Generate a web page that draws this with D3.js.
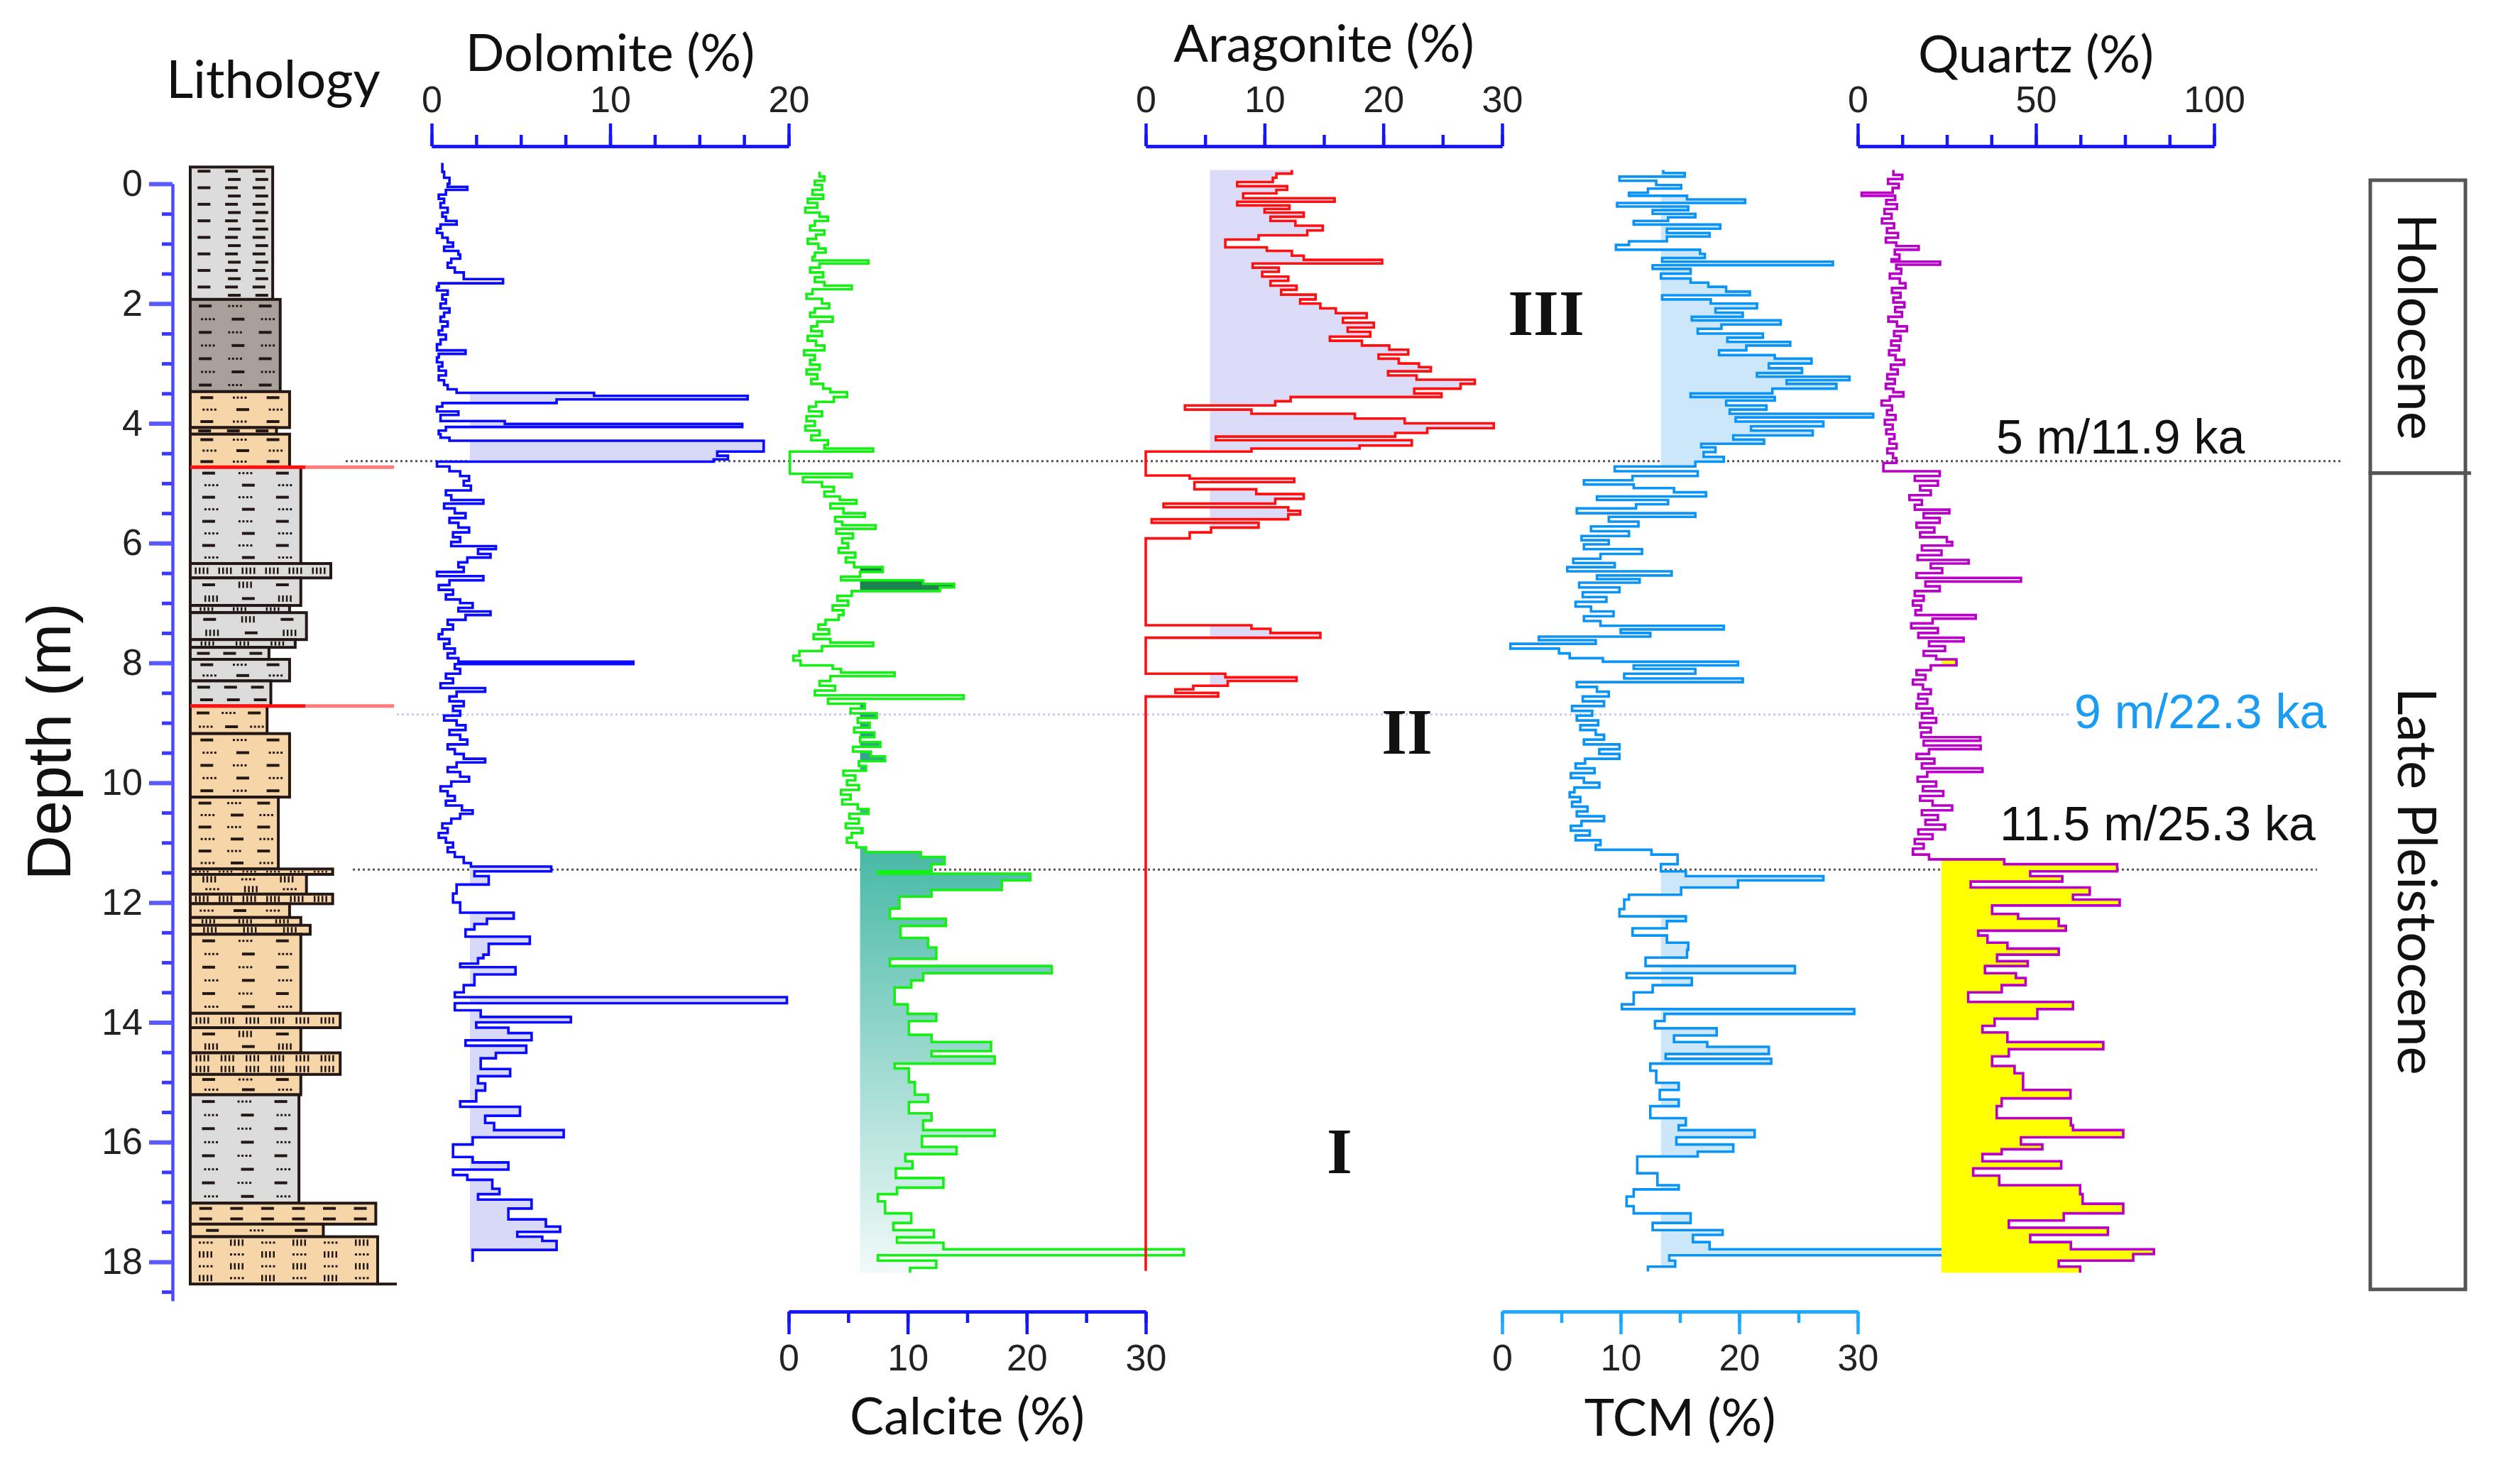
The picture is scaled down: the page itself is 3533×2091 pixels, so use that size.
<!DOCTYPE html>
<html><head><meta charset="utf-8">
<script src="https://cdn.jsdelivr.net/npm/d3@7"></script>
<style>
body{margin:0;background:#fff;}
svg{display:block;}
.nar{font-family:"Liberation Sans Narrow","Arial Narrow","Liberation Sans",sans-serif;}
</style></head>
<body><svg id="c" width="3533" height="2091"></svg>
<script>
// ---------------- DATA ----------------
const depthTicks = [0,2,4,6,8,10,12,14,16,18];
const dolomiteTicks = [0,10,20];
const calciteTicks = [0,10,20,30];
const aragoniteTicks = [0,10,20,30];
const tcmTicks = [0,10,20,30];
const quartzTicks = [0,50,100];

// [depth (m), value (%)] — step series, value held from this depth to the next
const dolomite = [[-0.35,0.6],[-0.2,0.7],[-0.1,1.0],[0.0,0.9],[0.05,2.0],[0.1,0.8],[0.18,0.4],[0.25,0.7],[0.32,0.5],[0.4,0.9],[0.48,0.6],[0.55,0.8],[0.62,1.4],[0.68,0.5],[0.75,0.3],[0.82,0.6],[0.9,0.9],[0.98,1.2],[1.05,0.7],[1.12,1.5],[1.18,1.6],[1.25,1.1],[1.32,0.9],[1.4,1.3],[1.48,1.8],[1.59,4.0],[1.66,0.4],[1.72,0.3],[1.78,0.9],[1.85,0.6],[1.93,0.8],[2.0,0.5],[2.08,1.0],[2.15,0.7],[2.22,0.5],[2.3,0.9],[2.38,0.6],[2.45,0.4],[2.52,0.8],[2.6,0.5],[2.68,0.3],[2.78,1.9],[2.84,0.4],[2.9,0.3],[2.98,0.6],[3.05,0.4],[3.12,0.8],[3.2,0.4],[3.28,0.7],[3.36,0.9],[3.43,1.4],[3.49,9.1],[3.54,17.7],[3.6,7.0],[3.66,0.6],[3.72,0.3],[3.8,1.5],[3.86,0.5],[3.96,4.1],[4.01,17.4],[4.06,0.8],[4.12,0.4],[4.18,0.5],[4.24,1.0],[4.29,18.6],[4.47,16.0],[4.54,16.6],[4.6,15.8],[4.64,0.3],[4.72,1.0],[4.8,1.6],[4.88,2.1],[4.96,1.8],[5.04,2.2],[5.12,0.8],[5.2,1.1],[5.28,2.9],[5.34,0.7],[5.42,1.3],[5.5,1.9],[5.58,1.0],[5.66,1.5],[5.74,2.1],[5.82,1.2],[5.9,1.6],[5.98,1.1],[6.05,3.6],[6.1,2.6],[6.18,3.3],[6.24,2.0],[6.32,1.5],[6.4,1.8],[6.48,0.3],[6.55,2.9],[6.62,1.0],[6.7,0.4],[6.78,1.2],[6.86,0.8],[6.94,1.6],[7.0,2.3],[7.08,1.5],[7.14,3.3],[7.2,1.9],[7.28,0.9],[7.36,1.2],[7.44,0.6],[7.52,0.4],[7.6,1.0],[7.68,0.7],[7.76,1.3],[7.84,0.9],[7.92,1.5],[7.98,11.3],[8.02,1.3],[8.1,1.6],[8.18,0.8],[8.26,1.2],[8.34,0.5],[8.42,3.0],[8.48,1.4],[8.56,1.0],[8.64,1.8],[8.72,1.2],[8.8,1.6],[8.88,0.7],[8.96,1.4],[9.04,1.9],[9.12,1.0],[9.2,1.6],[9.28,2.0],[9.36,0.9],[9.44,1.3],[9.52,1.8],[9.6,3.0],[9.66,1.4],[9.74,0.9],[9.82,1.6],[9.9,2.1],[9.98,1.1],[10.06,0.5],[10.14,0.9],[10.22,1.3],[10.3,0.8],[10.38,1.7],[10.46,2.3],[10.52,1.6],[10.6,1.1],[10.68,0.6],[10.76,0.9],[10.84,0.4],[10.92,0.8],[11.0,1.2],[11.08,0.9],[11.16,1.3],[11.24,1.8],[11.34,2.2],[11.4,6.7],[11.48,2.4],[11.56,3.2],[11.7,1.4],[11.85,1.2],[12.0,1.6],[12.17,4.6],[12.27,3.1],[12.36,2.4],[12.45,1.9],[12.57,5.5],[12.69,3.2],[12.87,2.9],[12.93,2.6],[13.02,1.6],[13.08,4.7],[13.2,2.4],[13.38,1.8],[13.5,1.3],[13.58,19.9],[13.68,1.3],[13.8,2.75],[13.91,7.8],[14.0,2.5],[14.09,4.3],[14.18,5.6],[14.3,1.9],[14.39,5.3],[14.51,3.6],[14.6,2.75],[14.78,4.4],[14.9,2.6],[15.02,3.0],[15.14,2.5],[15.32,1.6],[15.41,4.95],[15.56,3.0],[15.68,3.5],[15.8,7.4],[15.92,2.3],[16.04,1.2],[16.25,2.3],[16.34,4.3],[16.46,1.2],[16.55,2.0],[16.63,3.4],[16.78,3.8],[16.87,2.6],[16.96,5.6],[17.11,4.3],[17.29,6.4],[17.41,7.2],[17.5,4.8],[17.58,6.2],[17.65,7.0],[17.8,2.3],[18.0,2.3]];

const calcite = [[-0.2,2.6],[-0.12,3.0],[-0.05,2.2],[0.02,2.8],[0.1,2.0],[0.18,2.9],[0.25,1.6],[0.32,2.4],[0.4,1.4],[0.48,2.6],[0.55,3.3],[0.62,2.2],[0.7,1.8],[0.78,3.0],[0.85,2.3],[0.92,1.6],[1.0,2.5],[1.08,3.1],[1.15,2.2],[1.22,2.0],[1.28,6.7],[1.33,2.6],[1.4,1.8],[1.48,2.9],[1.56,2.2],[1.64,3.0],[1.7,5.3],[1.76,2.0],[1.84,1.5],[1.92,2.8],[2.0,3.4],[2.08,2.2],[2.15,1.8],[2.22,3.7],[2.3,2.4],[2.38,1.9],[2.46,2.8],[2.54,1.6],[2.62,2.3],[2.7,3.0],[2.78,1.3],[2.86,2.2],[2.94,1.8],[3.02,2.6],[3.1,1.5],[3.18,2.4],[3.26,1.9],[3.34,2.9],[3.42,3.5],[3.48,4.9],[3.56,3.8],[3.64,2.3],[3.72,1.7],[3.8,2.8],[3.88,1.5],[3.96,2.2],[4.04,1.4],[4.12,2.6],[4.2,1.9],[4.28,3.3],[4.36,3.0],[4.42,7.1],[4.47,0.1],[4.84,5.3],[4.9,1.2],[4.98,2.8],[5.06,3.8],[5.14,3.0],[5.22,4.3],[5.28,5.7],[5.34,3.5],[5.42,4.6],[5.5,6.4],[5.56,3.9],[5.64,4.5],[5.7,7.3],[5.76,4.0],[5.84,5.4],[5.92,4.5],[6.0,5.0],[6.08,4.2],[6.16,5.6],[6.24,4.8],[6.32,5.5],[6.4,7.9],[6.48,6.0],[6.56,4.4],[6.62,11.3],[6.68,13.9],[6.74,12.7],[6.8,5.3],[6.88,4.1],[6.96,5.0],[7.04,3.7],[7.12,4.6],[7.2,4.2],[7.28,3.1],[7.36,2.5],[7.44,3.4],[7.52,2.1],[7.6,3.5],[7.66,7.1],[7.72,2.8],[7.8,0.9],[7.88,0.4],[7.96,1.0],[8.04,3.7],[8.1,4.4],[8.16,8.9],[8.22,3.5],[8.3,2.6],[8.38,3.9],[8.46,2.2],[8.54,14.7],[8.6,3.3],[8.68,6.4],[8.76,5.2],[8.84,7.4],[8.92,5.8],[9.0,6.8],[9.08,5.5],[9.16,7.2],[9.24,6.0],[9.32,7.7],[9.4,5.4],[9.48,6.9],[9.56,8.1],[9.64,5.9],[9.72,6.5],[9.8,4.6],[9.88,5.6],[9.96,4.9],[10.04,5.9],[10.12,4.4],[10.2,5.2],[10.28,4.5],[10.36,5.8],[10.44,6.7],[10.52,5.1],[10.6,5.9],[10.68,4.8],[10.76,6.2],[10.84,5.3],[10.92,4.9],[11.0,5.7],[11.08,6.5],[11.16,11.1],[11.24,13.1],[11.36,12.0],[11.48,7.5],[11.52,20.3],[11.63,17.9],[11.79,12.0],[11.9,9.3],[12.1,8.5],[12.27,13.2],[12.39,9.4],[12.59,11.7],[12.75,12.4],[12.94,8.5],[13.06,22.1],[13.18,11.3],[13.3,10.3],[13.42,8.9],[13.7,10.0],[13.86,12.4],[13.98,10.1],[14.21,12.0],[14.33,17.0],[14.48,12.0],[14.57,17.3],[14.69,8.9],[14.77,10.1],[15.0,10.6],[15.21,11.7],[15.33,10.1],[15.52,12.0],[15.64,11.3],[15.8,17.3],[15.9,11.2],[16.08,14.1],[16.2,9.8],[16.32,10.4],[16.44,9.0],[16.6,13.0],[16.76,9.1],[16.87,7.5],[16.99,8.1],[17.19,10.3],[17.35,8.8],[17.47,12.2],[17.59,9.1],[17.68,13.0],[17.79,33.2],[17.89,7.5],[17.98,12.4],[18.1,10.2],[18.18,10.2]];

const aragonite = [[-0.23,12.3],[-0.17,11.0],[-0.1,10.7],[-0.03,7.7],[0.04,11.9],[0.1,11.0],[0.16,8.2],[0.24,15.9],[0.3,7.7],[0.36,12.1],[0.42,10.0],[0.48,13.3],[0.55,10.5],[0.62,12.6],[0.7,14.9],[0.78,13.6],[0.86,9.5],[0.93,6.7],[1.06,10.2],[1.12,12.3],[1.2,13.3],[1.27,19.9],[1.33,9.0],[1.4,11.2],[1.47,9.8],[1.55,12.0],[1.62,10.5],[1.7,12.7],[1.77,11.4],[1.85,14.3],[1.93,13.0],[2.0,14.7],[2.08,16.0],[2.16,18.6],[2.24,16.6],[2.32,19.2],[2.4,17.0],[2.47,18.9],[2.55,15.5],[2.62,18.2],[2.7,20.5],[2.77,22.1],[2.85,19.6],[2.92,21.3],[3.0,23.0],[3.06,24.0],[3.13,20.4],[3.2,22.8],[3.27,27.7],[3.34,26.5],[3.42,22.6],[3.5,24.9],[3.56,12.2],[3.63,10.9],[3.7,3.3],[3.77,8.9],[3.84,17.6],[3.92,21.8],[4.0,29.3],[4.08,23.7],[4.16,21.0],[4.22,5.9],[4.28,22.4],[4.37,18.0],[4.42,8.9],[4.47,0],[4.87,3.7],[4.92,12.5],[4.98,4.1],[5.1,9.3],[5.18,13.3],[5.26,10.9],[5.34,1.5],[5.4,12.0],[5.46,13.0],[5.52,12.0],[5.6,0.5],[5.66,9.5],[5.74,5.5],[5.82,3.7],[5.92,0],[7.37,8.9],[7.43,10.5],[7.5,14.7],[7.58,0],[8.18,6.7],[8.24,12.7],[8.3,6.9],[8.38,4.0],[8.44,2.5],[8.5,6.1],[8.56,0],[18.15,0]];

const tcm = [[-0.23,13.6],[-0.18,15.4],[-0.12,9.9],[-0.05,13.0],[0.02,15.1],[0.08,12.3],[0.15,10.7],[0.2,15.6],[0.26,20.5],[0.32,9.7],[0.38,15.7],[0.44,12.7],[0.5,16.3],[0.56,14.0],[0.62,11.1],[0.68,18.4],[0.75,13.9],[0.82,17.5],[0.88,13.9],[0.96,10.7],[1.02,9.6],[1.1,16.7],[1.17,17.1],[1.24,13.5],[1.3,27.9],[1.36,12.7],[1.42,15.9],[1.5,13.4],[1.58,15.9],[1.65,17.4],[1.72,18.9],[1.8,20.9],[1.86,13.5],[1.93,17.6],[2.0,21.5],[2.08,18.0],[2.15,20.3],[2.22,16.0],[2.28,23.5],[2.35,18.5],[2.42,16.5],[2.5,22.0],[2.57,19.0],[2.64,24.3],[2.7,20.6],[2.78,18.3],[2.86,23.0],[2.92,26.1],[3.0,22.5],[3.08,25.3],[3.16,21.5],[3.22,29.3],[3.28,24.0],[3.34,28.2],[3.42,22.8],[3.5,15.9],[3.56,23.0],[3.62,18.9],[3.7,22.3],[3.77,19.2],[3.84,31.3],[3.9,19.7],[3.97,27.1],[4.05,21.0],[4.12,26.2],[4.2,19.5],[4.27,22.1],[4.34,16.8],[4.4,18.0],[4.48,17.0],[4.56,18.7],[4.64,16.3],[4.72,9.5],[4.8,16.5],[4.88,11.0],[4.95,6.9],[5.02,11.1],[5.08,14.5],[5.15,17.2],[5.22,8.0],[5.28,14.0],[5.35,11.3],[5.42,6.3],[5.5,16.3],[5.56,9.0],[5.64,11.5],[5.72,7.5],[5.8,10.7],[5.88,6.7],[5.95,9.0],[6.02,6.9],[6.1,11.8],[6.18,8.3],[6.26,6.0],[6.33,9.5],[6.4,5.5],[6.47,14.3],[6.54,8.0],[6.6,11.6],[6.66,6.5],[6.74,9.9],[6.82,6.8],[6.9,8.8],[6.98,6.2],[7.06,7.5],[7.14,9.4],[7.22,6.9],[7.3,8.3],[7.38,18.7],[7.44,10.0],[7.5,12.5],[7.56,3.1],[7.62,7.9],[7.68,0.7],[7.76,4.8],[7.84,5.7],[7.92,8.5],[7.98,19.9],[8.04,11.1],[8.1,16.3],[8.18,10.3],[8.26,20.3],[8.32,6.3],[8.4,8.0],[8.48,9.0],[8.56,6.8],[8.64,8.6],[8.72,5.9],[8.8,7.6],[8.88,6.3],[8.96,8.1],[9.04,6.6],[9.12,7.9],[9.2,8.6],[9.28,6.9],[9.36,9.9],[9.44,8.2],[9.52,9.9],[9.6,7.0],[9.68,6.2],[9.76,7.8],[9.84,5.8],[9.92,6.9],[10.0,8.2],[10.08,6.1],[10.16,5.7],[10.24,6.6],[10.32,5.9],[10.4,7.2],[10.48,6.3],[10.56,8.6],[10.64,6.7],[10.72,5.8],[10.8,7.4],[10.88,6.2],[10.96,8.3],[11.04,7.9],[11.12,12.6],[11.2,14.8],[11.36,13.4],[11.48,15.5],[11.56,27.1],[11.63,19.9],[11.75,15.1],[11.87,10.7],[11.95,10.3],[12.11,9.9],[12.23,15.5],[12.31,13.9],[12.43,11.0],[12.55,13.9],[12.67,15.7],[12.79,15.6],[12.92,12.1],[13.06,24.7],[13.18,10.5],[13.26,16.0],[13.38,12.7],[13.5,11.1],[13.7,10.1],[13.78,29.7],[13.86,13.7],[13.98,12.9],[14.1,18.1],[14.22,14.5],[14.33,17.3],[14.41,22.5],[14.53,13.8],[14.61,22.7],[14.69,12.5],[14.81,13.0],[15.01,14.9],[15.13,13.3],[15.29,14.9],[15.4,12.5],[15.6,15.5],[15.72,14.9],[15.8,21.3],[15.92,14.7],[16.04,19.5],[16.16,16.5],[16.24,11.4],[16.52,13.1],[16.72,14.9],[16.79,11.1],[16.91,10.5],[17.07,11.1],[17.19,15.9],[17.35,12.7],[17.47,18.6],[17.55,16.1],[17.67,17.5],[17.79,40.0],[17.89,14.1],[17.98,14.6],[18.08,12.3],[18.16,12.3]];

const quartz = [[-0.23,10.0],[-0.15,12.5],[-0.08,8.5],[0.0,11.5],[0.07,9.8],[0.15,1.1],[0.2,10.5],[0.27,8.0],[0.34,11.0],[0.42,7.5],[0.5,9.5],[0.58,6.8],[0.66,10.2],[0.74,8.2],[0.82,11.3],[0.9,7.9],[0.98,10.8],[1.04,17.1],[1.1,10.4],[1.18,11.7],[1.26,9.5],[1.3,23.1],[1.35,10.8],[1.42,12.2],[1.5,9.0],[1.58,11.8],[1.66,13.4],[1.74,9.6],[1.82,12.0],[1.9,10.0],[1.98,13.1],[2.06,10.5],[2.14,12.4],[2.22,8.6],[2.3,11.0],[2.38,13.8],[2.46,10.2],[2.54,12.0],[2.62,9.4],[2.7,11.6],[2.78,8.8],[2.86,10.6],[2.94,13.0],[3.02,9.3],[3.1,11.2],[3.18,8.3],[3.26,10.4],[3.34,7.9],[3.42,10.0],[3.48,12.8],[3.55,9.0],[3.62,6.7],[3.7,9.6],[3.78,8.2],[3.86,10.6],[3.94,7.6],[4.02,9.8],[4.1,8.0],[4.18,10.3],[4.26,8.9],[4.34,10.9],[4.42,8.3],[4.5,9.9],[4.58,10.8],[4.66,7.2],[4.8,23.0],[4.88,16.0],[4.96,22.5],[5.04,17.5],[5.12,20.5],[5.2,14.5],[5.28,18.0],[5.36,16.0],[5.44,25.7],[5.5,18.5],[5.58,23.0],[5.66,16.5],[5.74,21.5],[5.82,17.5],[5.9,25.0],[5.98,26.5],[6.04,18.0],[6.12,23.5],[6.2,16.8],[6.28,31.1],[6.34,20.5],[6.42,23.7],[6.5,16.5],[6.58,45.8],[6.64,19.0],[6.72,23.0],[6.8,16.0],[6.88,18.5],[6.96,15.5],[7.04,17.8],[7.12,16.2],[7.2,33.1],[7.26,21.0],[7.34,15.0],[7.42,22.5],[7.5,17.0],[7.58,29.7],[7.64,20.0],[7.72,24.5],[7.8,18.5],[7.88,22.0],[7.94,27.7],[8.04,20.5],[8.12,16.5],[8.2,19.0],[8.28,15.5],[8.36,18.3],[8.44,20.5],[8.52,17.0],[8.6,19.5],[8.68,16.5],[8.76,21.0],[8.84,18.0],[8.92,22.0],[9.0,17.5],[9.08,20.5],[9.16,17.8],[9.24,34.4],[9.3,18.5],[9.38,34.5],[9.44,20.0],[9.52,16.5],[9.6,21.5],[9.68,18.0],[9.76,35.0],[9.82,19.5],[9.9,16.8],[9.98,22.0],[10.06,18.3],[10.14,24.0],[10.22,17.5],[10.3,21.0],[10.38,26.5],[10.46,18.0],[10.54,22.5],[10.62,19.0],[10.7,24.5],[10.78,17.0],[10.86,21.0],[10.94,16.0],[11.02,18.5],[11.1,15.5],[11.2,20.0],[11.28,41.1],[11.36,72.8],[11.48,48.4],[11.56,57.4],[11.65,31.7],[11.75,65.1],[11.87,60.4],[11.95,73.5],[12.05,37.7],[12.19,45.0],[12.27,56.4],[12.39,58.4],[12.47,33.8],[12.55,36.4],[12.67,42.0],[12.77,56.4],[12.87,39.1],[12.98,47.7],[13.06,35.7],[13.18,44.4],[13.26,47.1],[13.38,40.4],[13.5,31.0],[13.66,60.4],[13.78,50.4],[13.94,38.4],[14.06,35.0],[14.17,42.0],[14.33,68.9],[14.45,42.4],[14.57,37.7],[14.73,44.0],[14.85,46.4],[15.13,59.7],[15.27,40.4],[15.4,39.0],[15.6,59.8],[15.72,60.4],[15.8,74.5],[15.92,45.8],[16.04,51.8],[16.12,40.4],[16.2,35.0],[16.32,57.1],[16.44,32.4],[16.56,39.7],[16.72,62.4],[16.87,63.1],[17.03,74.5],[17.19,57.8],[17.31,42.4],[17.43,70.2],[17.55,48.4],[17.67,59.8],[17.79,83.1],[17.87,77.3],[17.98,56.4],[18.08,62.4],[18.18,62.4]];

// fill baselines and depth ranges
const dolomiteFill = {base:2.15, ranges:[[3.45,4.66],[11.4,18.0]]};
const calciteFill = {base:6.0, ranges:[[6.38,6.9],[8.6,18.18]]};
const aragoniteFill = {base:5.4, ranges:[[-0.23,4.47],[4.87,5.92],[7.37,7.58],[8.18,8.56]]};
const tcmFill = {base:13.4, ranges:[[-0.23,4.75],[11.3,18.16]]};
const quartzFill = {base:23.5, ranges:[[7.88,8.12],[11.2,18.18]]};

// lithology: [top, bottom, grain class, facies, symbols]
const lithology = [
 [-0.28,1.93,4.4,"lg","-"],[1.93,3.47,4.8,"dg","-."],[3.47,4.07,5.3,"tan","-."],[4.07,4.18,4.6,"tan","-"],
 [4.18,4.73,5.3,"tan","-."],[4.73,6.34,5.9,"lg","-."],[6.34,6.58,7.5,"lg","|"],[6.58,7.04,5.9,"lg","-|"],
 [7.04,7.16,5.3,"lg","|"],[7.16,7.61,6.2,"lg","-|"],[7.61,7.74,5.6,"lg","|"],[7.74,7.94,4.2,"lg","-"],
 [7.94,8.3,5.3,"lg","-."],[8.3,8.72,4.3,"lg","-"],[8.72,9.18,4.1,"tan","-."],[9.18,10.24,5.3,"tan","-."],
 [10.24,11.44,4.7,"tan","-."],[11.44,11.53,7.6,"tan","|"],[11.53,11.86,6.2,"tan","|."],[11.86,12.02,7.6,"tan","|"],
 [12.02,12.25,5.3,"tan",".-"],[12.25,12.38,5.9,"tan","|"],[12.38,12.53,6.4,"tan","|"],[12.53,13.85,5.9,"tan","-."],
 [13.85,14.09,8.0,"tan","|"],[14.09,14.51,5.9,"tan","-|"],[14.51,14.87,8.0,"tan","|"],[14.87,15.21,5.9,"tan","-."],
 [15.21,17.02,5.8,"lg","-."],[17.02,17.37,9.9,"tan","-"],[17.37,17.58,7.1,"tan","-."],[17.58,18.37,10.0,"tan",".|"]
];
const boundaries = [4.73, 8.72];
const ageMarkers = [{depth:4.63,label:"5 m/11.9 ka"},{depth:8.86,label:"9 m/22.3 ka"},{depth:11.45,label:"11.5 m/25.3 ka"}];
const epochs = [{top:-0.06,bottom:4.83,name:"Holocene"},{top:4.83,bottom:18.46,name:"Late Pleistocene"}];
const units = ["III","II","I"];
const unitDepths = [2.52, 9.51, 16.52];

// ---------------- DRAW ----------------
const svg = d3.select("#c");
svg.append("rect").attr("width",3533).attr("height",2091).attr("fill","#fff");
const y = d3.scaleLinear().domain([0,18]).range([259,1778]);
const fontT = "Lato, 'Open Sans', sans-serif";

// depth axis
const yAx = y.copy().domain([0,18.65]).range([y(0),y(18.65)]);
const gA = svg.append("g").attr("transform","translate(243,0)");
gA.call(d3.axisLeft(yAx).tickValues(d3.range(0,18.6,0.5)).tickSize(15).tickSizeOuter(0).tickFormat(""));
gA.call(g=>g.selectAll(".tick line").attr("stroke","#3a3aff").attr("stroke-width",5));
const gA2 = svg.append("g").attr("transform","translate(243,0)");
gA2.call(d3.axisLeft(yAx).tickValues(depthTicks).tickSize(33).tickSizeOuter(0).tickPadding(9));
[gA,gA2].forEach(g=>{g.select(".domain").attr("stroke","#4b4bff").attr("stroke-width",4);});
gA2.selectAll(".tick line").attr("stroke","#5a5aff").attr("stroke-width",6);
gA2.selectAll(".tick text").attr("class","nar").attr("font-size",52).attr("fill","#222");

svg.append("text").attr("transform","translate(99,1045) rotate(-90)").attr("text-anchor","middle")
  .attr("font-family","'Liberation Sans',Arial,sans-serif").attr("font-size",88).attr("fill","#111").text("Depth (m)");
svg.append("text").attr("x",385).attr("y",138).attr("text-anchor","middle").attr("font-family",fontT)
  .attr("font-size",74).attr("fill","#111").text("Lithology");

// lithology column
const lx = d3.scaleLinear().domain([0,10]).range([268,532]);
const facies = {lg:"#dcdcdc", dg:"#a7a09b", tan:"#f6d6a8"};
const gL = svg.append("g");
lithology.forEach(L=>{
  const [top,bot,gr,fc,sym]=L;
  const x0=lx(0), x1=lx(gr), y0=y(top), y1=y(bot);
  gL.append("rect").attr("x",x0).attr("y",y0).attr("width",x1-x0).attr("height",y1-y0)
    .attr("fill",facies[fc]).attr("stroke","#231815").attr("stroke-width",4);
  const h=y1-y0, w=x1-x0;
  const n=Math.max(1,Math.round(h/(fc==="lg"&&top<0?12:18)));
  const nc = w>190?6:3;
  for(let r=0;r<n;r++){
    const ry=y0+(r+0.5)*h/n;
    for(let c=0;c<nc;c++){
      if(fc==="lg"&&top<0&&r%2===1&&c===0) continue;
      const cx=x0+w*(c+0.5)/nc+(r%2&&nc===3?4:0);
      const s=sym[(r+c)%sym.length];
      if(s==="-") gL.append("rect").attr("x",cx-9).attr("y",ry-2).attr("width",18).attr("height",4).attr("fill","#231815");
      else if(s==="."){ for(let k=0;k<4;k++) gL.append("rect").attr("x",cx-10+k*5.5).attr("y",ry-1.5).attr("width",3).attr("height",3).attr("fill","#231815"); }
      else { const bh=Math.min(9,h-5); for(let k=0;k<4;k++) gL.append("rect").attr("x",cx-10+k*5.5).attr("y",ry-bh/2).attr("width",2.5).attr("height",bh).attr("fill","#231815"); }
    }
  }
});
gL.append("line").attr("x1",lx(10)).attr("x2",559).attr("y1",y(18.37)).attr("y2",y(18.37)).attr("stroke","#231815").attr("stroke-width",4);
boundaries.forEach(b=>{
  gL.append("line").attr("x1",268).attr("x2",430).attr("y1",y(b)).attr("y2",y(b)).attr("stroke","#ff1010").attr("stroke-width",5);
  gL.append("line").attr("x1",430).attr("x2",555).attr("y1",y(b)).attr("y2",y(b)).attr("stroke","#ff7a7a").attr("stroke-width",5);
});

// age marker lines
const markerX=[[487,3297],[559,2915],[497,3264]];
ageMarkers.forEach((m,i)=>{
  svg.append("line").attr("x1",markerX[i][0]).attr("x2",markerX[i][1]).attr("y1",y(m.depth)).attr("y2",y(m.depth))
    .attr("stroke",i===1?"#c4cbee":"#555").attr("stroke-width",3).attr("stroke-dasharray","3,4");
});

// panels
const panels = [
 {data:dolomite, fill:dolomiteFill, dom:[0,20], r:[608,1111], color:"#0a0aff", fillColor:"#d8d8f8", top:true, ticks:dolomiteTicks, minor:2.5, title:"Dolomite (%)", axisColor:"#1414ff", tb:100},
 {data:calcite, fill:calciteFill, dom:[0,30], r:[1111,1614], color:"#14f014", fillColor:"url(#calg)", top:false, ticks:calciteTicks, minor:5, title:"Calcite (%)", axisColor:"#1414ff", tb:2021},
 {data:aragonite, fill:aragoniteFill, dom:[0,30], r:[1614,2116], color:"#ff1010", fillColor:"#dcdcf9", top:true, ticks:aragoniteTicks, minor:5, title:"Aragonite (%)", axisColor:"#1414ff", tb:87},
 {data:tcm, fill:tcmFill, dom:[0,30], r:[2116,2617], color:"#0a94f5", fillColor:"#cce6fa", top:false, ticks:tcmTicks, minor:5, title:"TCM (%)", axisColor:"#1ea8ff", tb:2023},
 {data:quartz, fill:quartzFill, dom:[0,100], r:[2617,3119], color:"#b800c8", fillColor:"#ffff00", top:true, ticks:quartzTicks, minor:12.5, title:"Quartz (%)", axisColor:"#1414ff", tb:102}
];
const defs=svg.append("defs");
const lg=defs.append("linearGradient").attr("id","calg").attr("gradientUnits","userSpaceOnUse")
  .attr("x1",0).attr("x2",0).attr("y1",y(6.3)).attr("y2",y(18.2));
[[0,"#1b7d45"],[0.2,"#259a7d"],[0.43,"#4fbcaa"],[1,"#f2faf9"]].forEach(s=>lg.append("stop").attr("offset",s[0]).attr("stop-color",s[1]));

panels.forEach(p=>{
  const x=d3.scaleLinear().domain(p.dom).range(p.r);
  const g=svg.append("g");
  p.fill.ranges.forEach(rg=>{
    const pts=p.data.filter(d=>d[0]>=rg[0]-1e-9&&d[0]<=rg[1]+1e-9);
    const area=d3.area().curve(d3.curveStepBefore).y(d=>y(d[0])).x0(x(p.fill.base)).x1(d=>x(Math.max(d[1],p.fill.base)));
    g.append("path").attr("d",area(pts)).attr("fill",p.fillColor).attr("stroke","none");
  });
  const line=d3.line().curve(d3.curveStepBefore).x(d=>x(d[1])).y(d=>y(d[0]));
  g.append("path").attr("d",line(p.data)).attr("fill","none").attr("stroke",p.color).attr("stroke-width",3.6).attr("stroke-linejoin","miter");
  const ay=p.top?206:1848;
  const mk=p.top?d3.axisTop:d3.axisBottom;
  const minorVals=d3.range(p.dom[0],p.dom[1]+1e-6,p.minor);
  const ga=svg.append("g").attr("transform",`translate(0,${ay})`);
  ga.call(mk(x).tickValues(minorVals).tickSize(16).tickSizeOuter(0).tickFormat(""));
  const gb=svg.append("g").attr("transform",`translate(0,${ay})`);
  gb.call(mk(x).tickValues(p.ticks).tickSize(32).tickSizeOuter(0).tickPadding(p.top?16:14));
  [ga,gb].forEach(gg=>{gg.select(".domain").attr("stroke",p.axisColor).attr("stroke-width",4.5);
    gg.selectAll(".tick line").attr("stroke",p.axisColor).attr("stroke-width",4.5);});
  gb.selectAll(".tick text").attr("class","nar").attr("font-size",52).attr("fill","#222");
  svg.append("text").attr("x",(p.r[0]+p.r[1])/2).attr("y",p.tb).attr("text-anchor","middle")
    .attr("font-family",fontT).attr("font-size",72).attr("fill","#111").text(p.title);
});

// unit numerals
const unitX=[2178,1982,1887];
units.forEach((u,i)=>{
  svg.append("text").attr("x",unitX[i]).attr("y",y(unitDepths[i])).attr("text-anchor","middle")
    .attr("font-family","'Liberation Serif','Times New Roman',serif").attr("font-weight","bold")
    .attr("font-size",92).attr("fill","#111").text(u);
});

// age labels
const ageX=[2812,2922,2817], ageY=[639,1026,1184];
ageMarkers.forEach((m,i)=>{
  svg.append("text").attr("x",ageX[i]).attr("y",ageY[i]).attr("font-family","'Liberation Sans',Arial,sans-serif")
    .attr("font-size",68).attr("fill",i===1?"#1a9cf2":"#111").text(m.label);
});

// epoch box
const ge=svg.append("g");
epochs.forEach(e=>{
  ge.append("rect").attr("x",3339).attr("y",y(e.top)).attr("width",134).attr("height",y(e.bottom)-y(e.top))
    .attr("fill","none").attr("stroke","#555").attr("stroke-width",5);
  const cy=(y(e.top)+y(e.bottom))/2;
  ge.append("text").attr("transform",`translate(3378,${cy}) rotate(90)`).attr("text-anchor","middle")
    .attr("font-family",fontT).attr("font-size",76).attr("fill","#111").text(e.name);
});
ge.append("line").attr("x1",3473).attr("x2",3481).attr("y1",y(4.83)).attr("y2",y(4.83)).attr("stroke","#555").attr("stroke-width",5);
</script></body></html>
